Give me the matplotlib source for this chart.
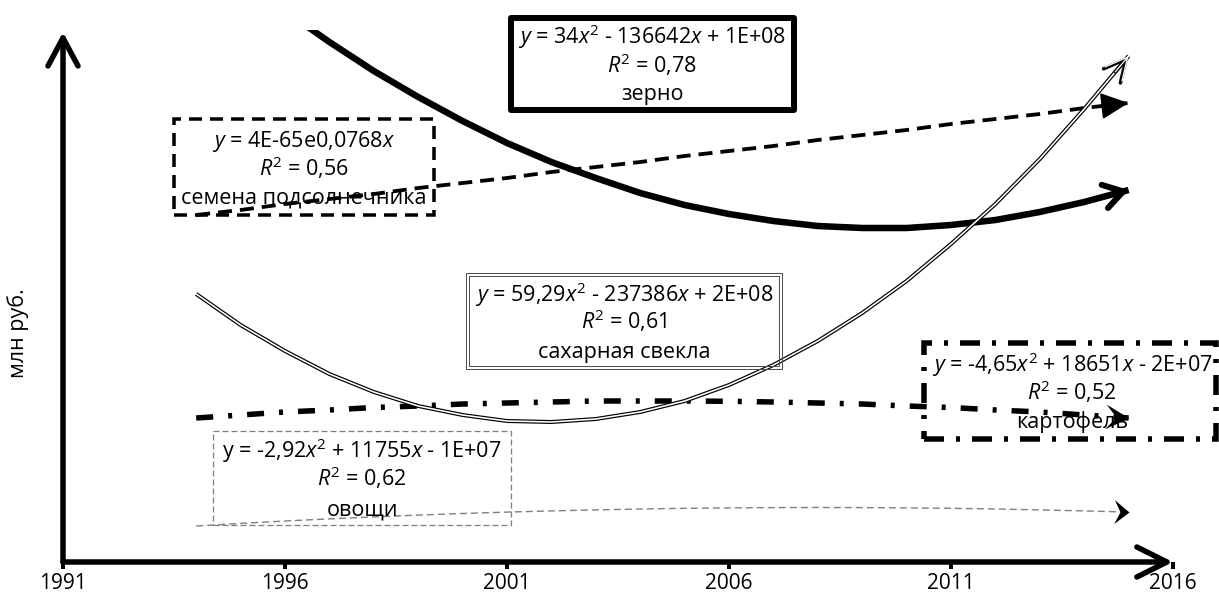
import matplotlib
matplotlib.use('Agg')
import matplotlib.pyplot as plt
from matplotlib.patches import Rectangle
from matplotlib.path import Path
from matplotlib.markers import MarkerStyle
from matplotlib.transforms import Affine2D
import numpy as np

plt.rcParams['font.family'] = ['Open Sans', 'DejaVu Sans']
plt.rcParams['mathtext.fontset'] = 'custom'
plt.rcParams['mathtext.rm'] = 'Open Sans'
plt.rcParams['mathtext.it'] = 'Open Sans:italic'
plt.rcParams['lines.scale_dashes'] = False

# ---------------- data (trend lines) ----------------
years = list(range(1994, 2016))
zerno = [621, 585, 551, 520, 491, 465, 441, 419, 400, 384, 369, 357, 348, 341,
         336, 334, 334, 337, 342, 350, 360, 372]
podsolnechnik = [347, 352, 358, 363, 368, 374, 379, 384, 390, 395, 400, 406, 411,
                 416, 422, 427, 432, 438, 443, 448, 454, 459]
svekla = [268, 237, 211, 188, 170, 156, 147, 141, 140, 143, 150, 161, 177, 197,
          221, 249, 281, 318, 358, 403, 453, 506]
kartofel = [144, 147, 150, 152, 154.5, 156, 158, 159, 160, 161, 161, 161, 160.7,
            160, 159, 158, 156, 154.5, 152, 150, 147, 144]
ovoshi = [36, 38.6, 41, 43.1, 45.1, 46.9, 48.5, 49.9, 51.1, 52.1, 53, 53.7, 54.1,
          54.4, 54.5, 54.4, 54.1, 53.7, 53, 52.1, 51.1, 49.9]

x_ticks = [1991, 1996, 2001, 2006, 2011, 2016]
x_tick_labels = ['1991', '1996', '2001', '2006', '2011', '2016']
y_label = 'млн руб.'

names = ['зерно', 'семена подсолнечника', 'сахарная свекла', 'картофель', 'овощи']
equations = [r'$y$ = 34$x^2$ - 136642$x$ + 1E+08',
             r'$y$ = 4E-65e0,0768$x$',
             r'$y$ = 59,29$x^2$ - 237386$x$ + 2E+08',
             r'$y$ = -4,65$x^2$ + 18651$x$ - 2E+07',
             r'y = -2,92$x^2$ + 11755$x$ - 1E+07']
r2_values = ['0,78', '0,56', '0,61', '0,52', '0,62']

# ---------------- figure ----------------
W, H = 1219, 602
P = 0.72  # points per pixel at dpi 100
fig = plt.figure(figsize=(W / 100, H / 100), dpi=100)


def fx(px):
    return px / W


def fy(py):
    return 1 - py / H


ax = fig.add_axes([fx(63), fy(562), fx(1173) - fx(63), fy(30) - fy(562)])
ax.set_xlim(1991, 2016)
ax.set_ylim(0, 532)
for s in ax.spines.values():
    s.set_visible(False)
ax.set_yticks([])
ax.set_xticks(x_ticks)
ax.set_xticklabels(x_tick_labels)
ax.tick_params(axis='x', direction='out', length=5, width=4 * P, pad=3,
               labelsize=15, color='black')

# axis arrows
ax.annotate('', xy=(1, 0), xytext=(0, 0), xycoords='axes fraction',
            arrowprops=dict(arrowstyle='->,head_length=%f,head_width=%f' % (30 * P, 15 * P),
                            lw=5.5 * P, color='black', shrinkA=0, shrinkB=0,
                            mutation_scale=1, joinstyle='round', capstyle='round'),
            annotation_clip=False, zorder=5)
ax.annotate('', xy=(0, 0.996), xytext=(0, 0), xycoords='axes fraction',
            arrowprops=dict(arrowstyle='->,head_length=%f,head_width=%f' % (28 * P, 15 * P),
                            lw=5.5 * P, color='black', shrinkA=0, shrinkB=0,
                            mutation_scale=1, joinstyle='round', capstyle='round'),
            annotation_clip=False, zorder=5)


def end_arrow(xs, ys, style, lw, color='black', z=4):
    x1, y1 = xs[-1], ys[-1]
    x0 = x1 - 0.3 * (xs[-1] - xs[-2])
    y0 = y1 - 0.3 * (ys[-1] - ys[-2])
    ax.annotate('', xy=(x1, y1), xytext=(x0, y0),
                arrowprops=dict(arrowstyle=style, lw=lw, color=color,
                                shrinkA=0, shrinkB=0, mutation_scale=1,
                                joinstyle='round', capstyle='round'),
                annotation_clip=False, zorder=z)


def stealth(xs, ys, notch, half, size, color='black'):
    p0 = ax.transData.transform((xs[-2], ys[-2]))
    p1 = ax.transData.transform((xs[-1], ys[-1]))
    ang = np.degrees(np.arctan2(p1[1] - p0[1], p1[0] - p0[0]))
    verts = [(0, 0), (-1, half), (-notch, 0), (-1, -half), (0, 0)]
    codes = [Path.MOVETO, Path.LINETO, Path.LINETO, Path.LINETO, Path.CLOSEPOLY]
    m = MarkerStyle(Path(verts, codes), transform=Affine2D().rotate_deg(ang))
    ax.plot([xs[-1]], [ys[-1]], marker=m, markersize=size, color=color,
            markeredgewidth=0, linestyle='none', clip_on=False, zorder=4)


# зерно: thick solid
ax.plot(years, zerno, color='black', lw=6.5 * P, zorder=3, solid_capstyle='butt')
end_arrow(years, zerno, '->,head_length=%f,head_width=%f' % (19 * P, 12 * P), 6 * P)

# семена подсолнечника: dashed
ax.plot(years, podsolnechnik, color='black', lw=3.8 * P, ls=(0, (14 * P, 8 * P)),
        zorder=3)
end_arrow(years, podsolnechnik, '-|>,head_length=%f,head_width=%f' % (24 * P, 11.5 * P),
          2 * P)

# сахарная свекла: double line
ax.plot(years, svekla, color='black', lw=4 * P, zorder=3, solid_capstyle='butt')
ax.plot(years, svekla, color='white', lw=1.6 * P, zorder=3.1, solid_capstyle='butt')
end_arrow(years, svekla, '->,head_length=%f,head_width=%f' % (22 * P, 11 * P), 3.5 * P, z=4)
end_arrow(years, svekla, '->,head_length=%f,head_width=%f' % (22 * P, 11 * P), 1.3 * P,
          color='white', z=4.1)

# картофель: dash-dot thick
ax.plot(years, kartofel, color='black', lw=5.5 * P,
        ls=(0, (17 * P, 15 * P, 4 * P, 15 * P)), zorder=3)
stealth(years, kartofel, 0.55, 0.52, 34)

# овощи: thin gray dashed
ax.plot(years, ovoshi, color='#808080', lw=1.4 * P, ls=(0, (7 * P, 4 * P)), zorder=3)
stealth(years, ovoshi, 0.6, 0.8, 21.6)

# ---------------- boxes with equations ----------------
box_specs = [
    # (x0, y0, x1, y1, center_x, baselines)
    (511, 18, 794, 110, 652, (44, 73, 100)),
    (174, 119, 434, 215, 304, (147, 176, 204)),
    (466, 273, 782, 369, 624, (302, 329, 358)),
    (924, 343, 1216, 439, 1072, (372, 400, 428)),
    (213, 431, 511, 525, 362, (458, 486, 515)),
]
box_styles = [
    dict(lw=6 * P, ls='-', ec='black', joinstyle='round'),
    dict(lw=3.5 * P, ls=(0, (13 * P, 8 * P)), ec='black'),
    None,
    dict(lw=5.5 * P, ls=(0, (20 * P, 12 * P, 4 * P, 12 * P)), ec='black'),
    dict(lw=1.3 * P, ls=(0, (6 * P, 3 * P)), ec='#808080'),
]


def add_rect(x0, y0, x1, y1, **kw):
    r = Rectangle((fx(x0), fy(y1)), fx(x1) - fx(x0), fy(y0) - fy(y1),
                  transform=fig.transFigure, fill=False, **kw)
    fig.add_artist(r)


for i, (x0, y0, x1, y1, cx, bl) in enumerate(box_specs):
    if box_styles[i] is None:
        add_rect(x0, y0, x1, y1, lw=1 * P, ec='#505050')
        add_rect(x0 + 3, y0 + 3, x1 - 3, y1 - 3, lw=1 * P, ec='#505050')
    else:
        add_rect(x0, y0, x1, y1, **box_styles[i])
    lines = [equations[i], r'$R^2$ = ' + r2_values[i], names[i]]
    for txt, b in zip(lines, bl):
        fig.text(fx(cx), fy(b), txt, ha='center', va='baseline', fontsize=15.5,
                 color='black')

fig.text(fx(18), fy(333), y_label, rotation=90, ha='center', va='center',
         fontsize=15.5)

fig.savefig('out.png', dpi=100)
